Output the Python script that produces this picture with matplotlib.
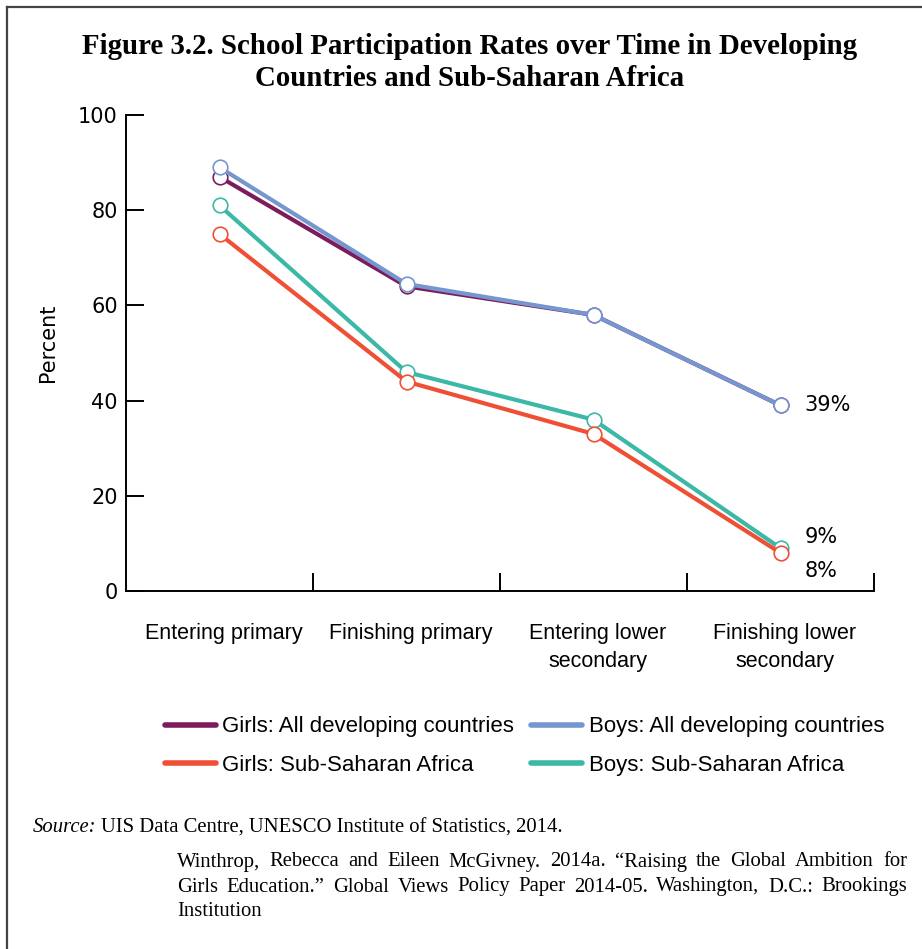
import matplotlib
matplotlib.use("Agg")
import matplotlib.pyplot as plt
from matplotlib.lines import Line2D
import matplotlib.transforms as mtransforms
import numpy as np

categories = ["Entering primary", "Finishing primary", "Entering lower\nsecondary", "Finishing lower\nsecondary"]
girls_all = [87, 64, 58, 39]
boys_all = [89, 64.5, 58, 39]
girls_ssa = [75, 44, 33, 8]
boys_ssa = [81, 46, 36, 9]
yticks = [0, 20, 40, 60, 80, 100]
end_labels = [("39%", 39), ("9%", 11.3), ("8%", 4.2)]

C_GA = "#7d1c5c"
C_BA = "#7596cf"
C_GS = "#ef5035"
C_BS = "#3bb8a6"

fig = plt.figure(figsize=(9.22, 9.49), dpi=100)
ax = fig.add_axes([126/922, 1-591/949, (874-126)/922, (591-115)/949])

x = np.arange(len(categories))
series = [("Girls: All developing countries", girls_all, C_GA),
          ("Boys: All developing countries", boys_all, C_BA),
          ("Boys: Sub-Saharan Africa", boys_ssa, C_BS),
          ("Girls: Sub-Saharan Africa", girls_ssa, C_GS)]
handles = {}
for name, vals, col in series:
    ax.plot(x, vals, color=col, lw=3, marker="o", ms=10.5, mfc="white",
            mec=col, mew=1.2, solid_capstyle="butt", zorder=3)
    handles[name] = Line2D([0], [0], color=col, lw=4, solid_capstyle="round")

ax.set_xlim(-0.5, len(categories) - 0.5)
ax.set_ylim(0, 100)
for s in ["top", "right"]:
    ax.spines[s].set_visible(False)
for s in ["left", "bottom"]:
    ax.spines[s].set_linewidth(1.4)

ax.set_yticks(yticks)
ax.set_yticklabels([str(v) for v in yticks], fontfamily="DejaVu Sans", fontsize=15)
ax.tick_params(axis="y", direction="in", length=13, width=1.4, pad=6)

ax.set_xticks(np.append(np.arange(len(categories) - 1) + 0.5, len(categories) - 0.5))
ax.set_xticklabels([])
ax.tick_params(axis="x", which="major", direction="in", length=13, width=1.4)
ax.set_xticks(x, minor=True)
ax.set_xticklabels(categories, minor=True, fontfamily="Liberation Sans", fontsize=15.5,
                   linespacing=1.45, va="top")
ax.tick_params(axis="x", which="minor", length=0, pad=23)
shift = mtransforms.ScaledTranslation(4/100, 0, fig.dpi_scale_trans)
for lab in ax.get_xticklabels(minor=True):
    lab.set_transform(lab.get_transform() + shift)

for txt, yv in end_labels:
    ax.annotate(txt, xy=(3, yv), xytext=(17.5, 0), textcoords="offset points",
                va="center", ha="left", fontfamily="DejaVu Sans", fontsize=15)

fig.text(48/922, 1-343/949, "Percent", rotation=90, ha="center", va="center",
         fontfamily="DejaVu Sans", fontsize=15)

# Title
fig.text(470/922, 1-46/949, "Figure 3.2. School Participation Rates over Time in Developing",
         ha="center", va="center", fontfamily="Liberation Serif", fontweight="bold", fontsize=20.8)
fig.text(470/922, 1-78/949, "Countries and Sub-Saharan Africa",
         ha="center", va="center", fontfamily="Liberation Serif", fontweight="bold", fontsize=20.8)

# Legend
order = ["Girls: All developing countries", "Girls: Sub-Saharan Africa",
         "Boys: All developing countries", "Boys: Sub-Saharan Africa"]
leg = fig.legend([handles[k] for k in order], order, ncol=2, loc="center",
                 bbox_to_anchor=(524.5/922, 1-746/949), frameon=False,
                 prop={"family": "Liberation Sans", "size": 16},
                 handlelength=2.3, handletextpad=0.3, columnspacing=0.75,
                 labelspacing=0.78)

# Source line
FS = 14.9
t1 = fig.text(33/922, 1-828/949, "Source:", ha="left", va="center",
              fontfamily="Liberation Serif", fontstyle="italic", fontsize=FS)
fig.canvas.draw()
r = fig.canvas.get_renderer()
bb = t1.get_window_extent(r)
fig.text(bb.x1/922 + 4/922, 1-828/949, "UIS Data Centre, UNESCO Institute of Statistics, 2014.",
         ha="left", va="center", fontfamily="Liberation Serif", fontsize=FS)

# Citation, justified
cit_lines = ["Winthrop, Rebecca and Eileen McGivney. 2014a. \u201cRaising the Global Ambition for",
             "Girls Education.\u201d Global Views Policy Paper 2014-05. Washington, D.C.: Brookings",
             "Institution"]
x0, x1 = 177, 907
ys = [862, 887, 912]
for i, (line, yy) in enumerate(zip(cit_lines, ys)):
    words = line.split(" ")
    if i == len(cit_lines) - 1:
        fig.text(x0/922, 1-yy/949, line, ha="left", va="center",
                 fontfamily="Liberation Serif", fontsize=FS)
        continue
    tobjs = [fig.text(0, 1-yy/949, w, ha="left", va="center",
                      fontfamily="Liberation Serif", fontsize=FS) for w in words]
    widths = [t.get_window_extent(r).width for t in tobjs]
    gap = (x1 - x0 - sum(widths)) / (len(words) - 1)
    cx = x0
    for t, w in zip(tobjs, widths):
        t.set_x(cx/922)
        cx += w + gap

# Border
fig.add_artist(Line2D([7/922, 1], [1-7/949, 1-7/949], color="#444444", lw=1.6,
                      transform=fig.transFigure))
fig.add_artist(Line2D([7/922, 7/922], [0, 1-7/949], color="#444444", lw=1.6,
                      transform=fig.transFigure))

fig.savefig("out.png", dpi=100)
